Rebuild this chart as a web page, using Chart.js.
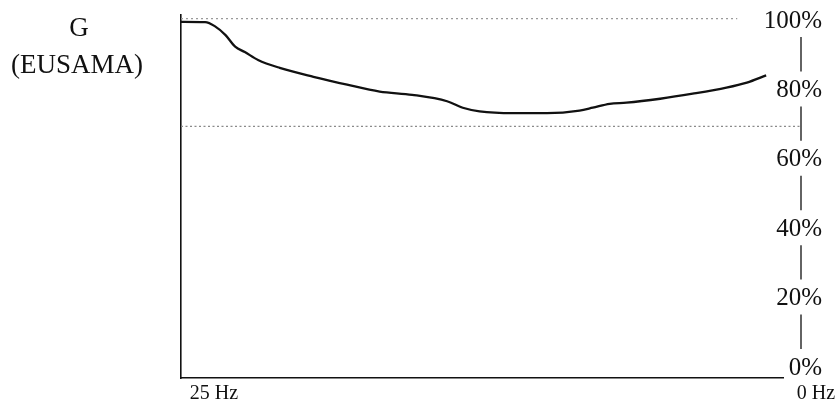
<!DOCTYPE html>
<html>
<head>
    <title>G (EUSAMA)</title>
    <script src="https://cdn.jsdelivr.net/npm/chart.js"></script>
    <style>
        body { margin: 0; background: #fff; }
        #wrap { width: 839px; height: 404px; position: relative; }
    </style>
</head>
<body>
    <div id="wrap"><canvas id="eusama"></canvas></div>

    <script>
    // excitation frequency (Hz) and road grip (%) along the sweep
    const freqHz = [25.0, 24.0, 23.6, 23.15, 22.75, 22.35, 21.8, 20.9, 19.5, 18.1, 16.75, 15.4,
                    13.95, 13.3, 12.6, 11.2, 9.8, 8.45, 7.9, 7.2, 6.5, 5.1, 3.75, 2.35, 1.5, 0.7];
    const gripPct = [99.1, 99.0, 97.9, 95.4, 92.2, 90.7, 88.5, 86.3, 83.8, 81.6, 79.7, 78.8,
                     77.0, 75.2, 74.2, 73.7, 73.7, 74.4, 75.2, 76.3, 76.6, 77.7, 79.1, 80.8, 82.2, 84.2];

    // dotted reference levels
    const topRefHz = [25, 1.9];
    const topRefPct = [100, 100];
    const limitRefHz = [25, -0.7];
    const limitRefPct = [70, 70];

    const pctTicks = [0, 20, 40, 60, 80, 100];
    const hzTicks = [25, 0];

    const serif = '"Liberation Serif", "DejaVu Serif", serif';

    function toPoints(xs, ys) {
        return xs.map((x, i) => ({ x: x, y: ys[i] }));
    }

    // fixed box size for an axis, no extra label padding around the chart area
    function fixBox(w, h) {
        return s => {
            if (w !== null) s.width = w;
            if (h !== null) s.height = h;
            s.paddingTop = s.paddingBottom = s.paddingLeft = s.paddingRight = 0;
        };
    }

    // "G (EUSAMA)" caption and the little bars between the percent labels
    const decorations = {
        id: 'decorations',
        afterDraw(chart) {
            const ctx = chart.ctx;
            ctx.save();
            ctx.fillStyle = '#111';
            ctx.textAlign = 'center';
            ctx.textBaseline = 'middle';
            ctx.font = '27px ' + serif;
            ctx.fillText('G', 79, 29);
            ctx.fillText('(EUSAMA)', 77, 66);

            const y2 = chart.scales.y2;
            const x = chart.chartArea.right + 18;
            ctx.strokeStyle = '#222';
            ctx.lineWidth = 1.4;
            for (let i = 0; i < pctTicks.length - 1; i++) {
                const lo = y2.getPixelForValue(pctTicks[i]);
                const hi = y2.getPixelForValue(pctTicks[i + 1]);
                ctx.beginPath();
                ctx.moveTo(x, hi + 16);
                ctx.lineTo(x, lo - 19);
                ctx.stroke();
            }
            ctx.restore();
        }
    };

    const ctx = document.getElementById('eusama').getContext('2d');
    new Chart(ctx, {
        type: 'line',
        data: {
            datasets: [{
                label: 'Grip',
                data: toPoints(freqHz, gripPct),
                borderColor: '#111',
                borderWidth: 2.3,
                pointRadius: 0,
                cubicInterpolationMode: 'monotone',
                fill: false
            }, {
                label: '100 %',
                data: toPoints(topRefHz, topRefPct),
                borderColor: '#9a9a9a',
                borderWidth: 1.2,
                borderDash: [2, 3],
                pointRadius: 0,
                fill: false
            }, {
                label: '70 %',
                data: toPoints(limitRefHz, limitRefPct),
                borderColor: '#8a8a8a',
                borderWidth: 1.2,
                borderDash: [2, 2.5],
                pointRadius: 0,
                clip: false,
                fill: false
            }]
        },
        options: {
            responsive: true,
            maintainAspectRatio: false,
            animation: false,
            layout: { padding: { left: 181, top: 15, right: 0, bottom: 0 } },
            plugins: {
                legend: { display: false },
                tooltip: { enabled: false }
            },
            scales: {
                x: {
                    type: 'linear',
                    position: 'bottom',
                    reverse: true,
                    min: 0,
                    max: 25,
                    afterBuildTicks: s => { s.ticks = hzTicks.map(v => ({ value: v })); },
                    afterFit: fixBox(null, 26),
                    grid: { display: false, drawTicks: false },
                    border: { display: true, color: '#111', width: 1.6 },
                    ticks: {
                        callback: v => v + ' Hz',
                        autoSkip: false,
                        labelOffset: 33,
                        padding: 4,
                        maxRotation: 0,
                        color: '#111',
                        font: { family: serif, size: 20 }
                    }
                },
                y: {
                    type: 'linear',
                    position: 'left',
                    min: 0,
                    max: 101,
                    afterFit: fixBox(0, null),
                    grid: { display: false, drawTicks: false },
                    border: { display: true, color: '#111', width: 1.6 },
                    ticks: { display: false }
                },
                y2: {
                    type: 'linear',
                    position: 'right',
                    min: -2.88,
                    max: 101.73,
                    afterBuildTicks: s => { s.ticks = pctTicks.map(v => ({ value: v })); },
                    afterFit: fixBox(56, null),
                    grid: { display: false, drawTicks: false },
                    border: { display: false },
                    ticks: {
                        callback: v => v + '%',
                        mirror: true,
                        crossAlign: 'near',
                        padding: 39,
                        color: '#111',
                        font: { family: serif, size: 25 }
                    }
                }
            }
        },
        plugins: [decorations]
    });
    </script>
</body>
</html>
